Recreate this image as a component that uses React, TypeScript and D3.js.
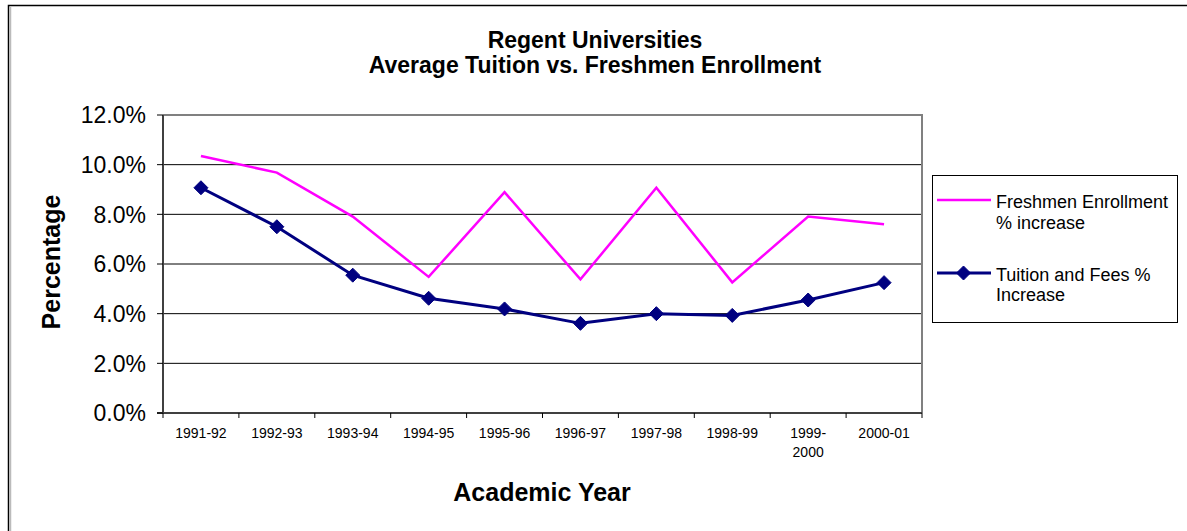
import React from "react";
import * as d3 from "d3";

const categories: string[][] = [
  ["1991-92"], ["1992-93"], ["1993-94"], ["1994-95"], ["1995-96"],
  ["1996-97"], ["1997-98"], ["1998-99"], ["1999-", "2000"], ["2000-01"],
];
const freshmenEnrollment = [10.35, 9.68, 7.91, 5.48, 8.89, 5.38, 9.07, 5.26, 7.91, 7.6];
const tuitionFees = [9.07, 7.5, 5.55, 4.62, 4.19, 3.61, 4.0, 3.93, 4.55, 5.25];
const yTicks = [0, 2, 4, 6, 8, 10, 12];
const titleLines = ["Regent Universities", "Average Tuition vs. Freshmen Enrollment"];
const legendFreshmen = ["Freshmen Enrollment", "% increase"];
const legendTuition = ["Tuition and Fees %", "Increase"];

const PINK = "#FF00FF";
const NAVY = "#000080";
const FONT = "'Liberation Sans', Arial, sans-serif";

export default function App() {
  const W = 1187, H = 531;
  const left = 163, right = 922, top = 115, bottom = 413;
  const x = d3.scaleBand<number>().domain(d3.range(categories.length)).range([left, right]);
  const y = d3.scaleLinear().domain([0, 12]).range([bottom, top]);
  const cx = (i: number) => (x(i) as number) + x.bandwidth() / 2;
  const line = d3.line<number>().x((_, i) => cx(i)).y((v) => y(v));
  const diamond = (px: number, py: number, r: number) =>
    `M${px},${py - r}L${px + r},${py}L${px},${py + r}L${px - r},${py}Z`;

  return (
    <svg width={W} height={H} style={{ position: "absolute", left: 0, top: 0, display: "block" }} fontFamily={FONT}>
      <rect x={0} y={0} width={W} height={H} fill="#fff" />
      {/* outer frame */}
      <rect x={8.5} y={5.5} width={W + 20} height={H + 20} fill="none" stroke="#000" strokeWidth={1.5} />
      <line x1={10.5} y1={7} x2={10.5} y2={H} stroke="#bbb" strokeWidth={1.5} />

      {/* title */}
      {titleLines.map((t, i) => (
        <text key={i} x={595} y={48 + i * 25} textAnchor="middle" fontSize={23} fontWeight="bold" fill="#000">
          {t}
        </text>
      ))}

      {/* gridlines */}
      {yTicks.filter((t) => t > 0 && t < 12).map((t) => (
        <line key={t} x1={left} x2={right} y1={y(t)} y2={y(t)} stroke="#000" strokeWidth={1} />
      ))}
      {/* plot frame top / right */}
      <line x1={left} x2={right + 1} y1={top} y2={top} stroke="#808080" strokeWidth={2} />
      <line x1={right} x2={right} y1={top} y2={bottom} stroke="#808080" strokeWidth={2} />
      {/* axes */}
      <line x1={left} x2={left} y1={top} y2={bottom} stroke="#404040" strokeWidth={2} />
      <line x1={left - 6} x2={right} y1={bottom} y2={bottom} stroke="#404040" strokeWidth={2} />
      {yTicks.map((t) => (
        <g key={t}>
          <line x1={left - 6} x2={left} y1={y(t)} y2={y(t)} stroke="#000" strokeWidth={1} />
          <text x={146} y={y(t)} dy="0.36em" textAnchor="end" fontSize={23} fill="#000">
            {t.toFixed(1)}%
          </text>
        </g>
      ))}
      {d3.range(categories.length + 1).map((i) => {
        const xx = i < categories.length ? (x(i) as number) : right;
        return <line key={i} x1={xx} x2={xx} y1={bottom} y2={bottom + 5} stroke="#000" strokeWidth={1} />;
      })}
      {categories.map((c, i) => (
        <text key={i} x={cx(i)} y={438} textAnchor="middle" fontSize={14} fill="#000">
          {c.map((s, j) => (
            <tspan key={j} x={cx(i)} dy={j === 0 ? 0 : 19}>{s}</tspan>
          ))}
        </text>
      ))}

      {/* axis titles */}
      <text transform="translate(60,262) rotate(-90)" textAnchor="middle" fontSize={25} fontWeight="bold" fill="#000">
        Percentage
      </text>
      <text x={542} y={501} textAnchor="middle" fontSize={25} fontWeight="bold" fill="#000">
        Academic Year
      </text>

      {/* series */}
      <path d={line(freshmenEnrollment) || ""} fill="none" stroke={PINK} strokeWidth={2.5} />
      <path d={line(tuitionFees) || ""} fill="none" stroke={NAVY} strokeWidth={3} />
      {tuitionFees.map((v, i) => (
        <path key={i} d={diamond(cx(i), y(v), 7)} fill={NAVY} stroke={NAVY} strokeWidth={1} />
      ))}

      {/* legend */}
      <rect x={932.5} y={175.5} width={245} height={147} fill="#fff" stroke="#000" strokeWidth={1} />
      <line x1={937} x2={991} y1={200} y2={200} stroke={PINK} strokeWidth={2.5} />
      <text x={996} y={208} fontSize={18} fill="#000">
        {legendFreshmen.map((s, j) => (
          <tspan key={j} x={996} dy={j === 0 ? 0 : 21}>{s}</tspan>
        ))}
      </text>
      <line x1={937} x2={991} y1={273} y2={273} stroke={NAVY} strokeWidth={3} />
      <path d={diamond(963.5, 273, 7)} fill={NAVY} stroke={NAVY} strokeWidth={1} />
      <text x={996} y={281} fontSize={18} fill="#000">
        {legendTuition.map((s, j) => (
          <tspan key={j} x={996} dy={j === 0 ? 0 : 20}>{s}</tspan>
        ))}
      </text>
    </svg>
  );
}
